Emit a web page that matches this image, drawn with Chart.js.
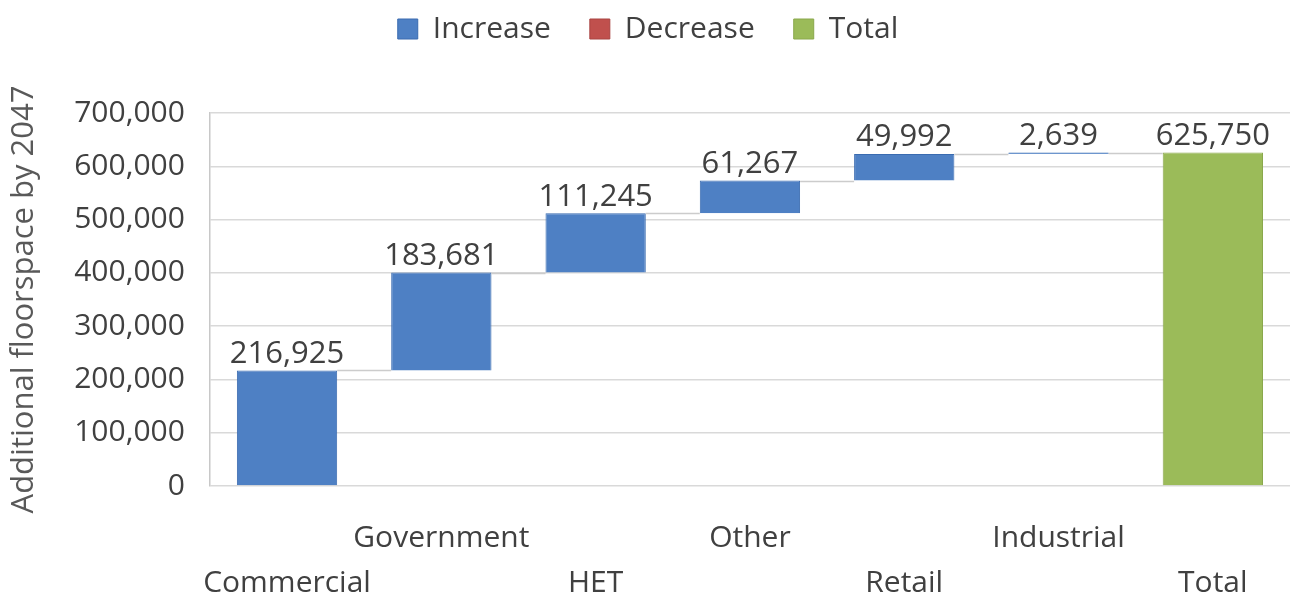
<!DOCTYPE html>
<html>
<head>
<meta charset="utf-8">
<script src="https://cdn.jsdelivr.net/npm/chart.js@4"></script>
<style>
  html, body { margin: 0; padding: 0; background: #fff; }
  #wrap { width: 1293px; height: 599px; }
</style>
</head>
<body>
<div id="wrap"><canvas id="myChart"></canvas></div>
<script>
// data
let categories = ["Commercial", "Government", "HET", "Other", "Retail", "Industrial", "Total"];
let increases = [216925, 183681, 111245, 61267, 49992, 2639];
let totalValue = 625750;
let yTicks = [0, 100000, 200000, 300000, 400000, 500000, 600000, 700000];

let blue = "#4e80c4";
let red = "#c0504d";
let green = "#9bbb59";

// floating bars for the increases
let incData = [];
let running = 0;
for (let i = 0; i < increases.length; i++) {
    incData.push([running, running + increases[i]]);
    running += increases[i];
}
incData.push(null);

let totData = [];
for (let i = 0; i < increases.length; i++) totData.push(null);
totData.push(totalValue);

let decData = categories.map(function () { return null; });

function fmt(v) {
    return Number(v).toLocaleString("en-US");
}

// connector lines + value labels
let waterfallPlugin = {
    id: "waterfall",
    afterDatasetsDraw: function (chart) {
        let ctx = chart.ctx;
        let y = chart.scales.y;
        let incMeta = chart.getDatasetMeta(0);
        let totMeta = chart.getDatasetMeta(2);
        let bars = [];
        for (let i = 0; i < increases.length; i++) bars.push(incMeta.data[i]);
        bars.push(totMeta.data[categories.length - 1]);

        ctx.save();
        ctx.strokeStyle = "#cccccc";
        ctx.lineWidth = 1.5;
        for (let i = 0; i < bars.length - 1; i++) {
            let top = incData[i][1];
            let py = Math.round(y.getPixelForValue(top)) + 0.5;
            let a = bars[i], b = bars[i + 1];
            ctx.beginPath();
            ctx.moveTo(a.x + a.width / 2, py);
            ctx.lineTo(b.x - b.width / 2, py);
            ctx.stroke();
        }

        ctx.fillStyle = "#404040";
        ctx.font = "31px 'Open Sans'";
        ctx.textAlign = "center";
        ctx.textBaseline = "bottom";
        for (let i = 0; i < bars.length; i++) {
            let val = i < increases.length ? increases[i] : totalValue;
            let top = i < increases.length ? incData[i][1] : totalValue;
            ctx.fillText(fmt(val), bars[i].x, y.getPixelForValue(top) - 1);
        }
        ctx.restore();
    }
};

// push the plot down below the legend
let legendGap = {
    id: "legendGap",
    beforeInit: function (chart) {
        let origFit = chart.legend.fit;
        chart.legend.fit = function () {
            origFit.bind(chart.legend)();
            this.height = 138;
        };
    }
};

new Chart(document.getElementById("myChart"), {
    type: "bar",
    data: {
        labels: categories,
        datasets: [
            {
                label: "Increase",
                data: incData,
                backgroundColor: blue,
                borderColor: "#3a6bb0",
                borderWidth: 1,
                grouped: false,
                barPercentage: 0.65,
                categoryPercentage: 1
            },
            {
                label: "Decrease",
                data: decData,
                backgroundColor: red,
                borderColor: "#a94442",
                borderWidth: 1,
                grouped: false,
                barPercentage: 0.65,
                categoryPercentage: 1
            },
            {
                label: "Total",
                data: totData,
                backgroundColor: green,
                borderColor: "#8aa84c",
                borderWidth: 1,
                grouped: false,
                barPercentage: 0.65,
                categoryPercentage: 1
            }
        ]
    },
    options: {
        responsive: true,
        maintainAspectRatio: false,
        animation: false,
        layout: { padding: { left: 6, right: 3, top: -25, bottom: -37 } },
        plugins: {
            legend: {
                position: "top",
                labels: {
                    color: "#404040",
                    font: { family: "'Open Sans'", size: 30 },
                    boxWidth: 20,
                    boxHeight: 20,
                    padding: 39
                }
            },
            tooltip: { enabled: false }
        },
        scales: {
            x: {
                grid: { display: false, drawTicks: false },
                border: { display: false },
                ticks: {
                    color: "#404040",
                    font: { family: "'Open Sans'", size: 30, lineHeight: 1.5 },
                    maxRotation: 0,
                    autoSkip: false,
                    padding: 30,
                    callback: function (v, i) {
                        let name = categories[i];
                        return i % 2 === 1 ? [name, ""] : ["", name];
                    }
                }
            },
            y: {
                min: yTicks[0],
                max: yTicks[yTicks.length - 1],
                afterBuildTicks: function (axis) {
                    axis.ticks = yTicks.map(function (v) { return { value: v }; });
                },
                grid: { color: "#d9d9d9", lineWidth: 1.5, drawTicks: false },
                border: { display: true, color: "#c8c8c8", width: 1.5 },
                ticks: {
                    color: "#404040",
                    font: { family: "'Open Sans'", size: 30 },
                    padding: 25,
                    callback: function (v) { return fmt(v); }
                },
                title: {
                    display: true,
                    text: "Additional floorspace by 2047",
                    color: "#595959",
                    font: { family: "'Open Sans'", size: 31 },
                    padding: { top: 0, bottom: 6 }
                }
            }
        }
    },
    plugins: [waterfallPlugin, legendGap]
});
</script>
</body>
</html>
